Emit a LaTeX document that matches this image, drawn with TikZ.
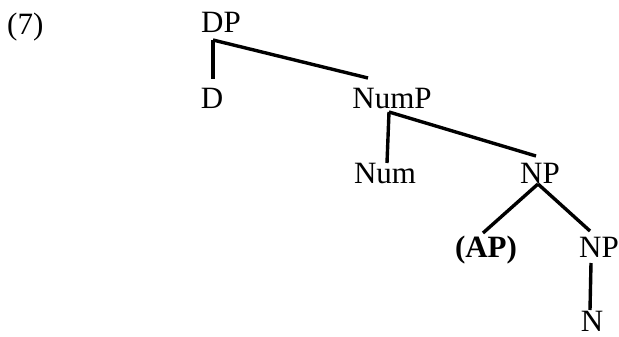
\documentclass[tikz,border=0pt]{standalone}
\usepackage{fontspec}
\setmainfont{Liberation Serif}
\begin{document}
\begin{tikzpicture}[x=1pt,y=-1pt,
  lbl/.style={inner sep=0pt,anchor=base,font=\fontsize{31}{36}\selectfont},
  branch/.style={line width=3.4pt}]
\useasboundingbox (0,0) rectangle (619,337);
% example number
\node[lbl,anchor=base west] (ex) at (7,35) {(7)};
% tree labels
\node[lbl] (DP)   at (221,33)  {DP};
\node[lbl] (D)    at (212,108) {D};
\node[lbl] (NumP) at (392,108) {NumP};
\node[lbl] (Num)  at (385,183) {Num};
\node[lbl] (NP)   at (540,183) {NP};
\node[lbl] (AP)   at (486,257) {\bfseries (AP)};
\node[lbl] (NPb)  at (599,257) {NP};
\node[lbl] (N)    at (592,331) {N};
% branches
\draw[branch] ([xshift=-8pt,yshift=-7pt]DP.base) -- ([xshift=1pt,yshift=29pt]D.base);
\draw[branch] ([xshift=-8pt,yshift=-7pt]DP.base) -- ([xshift=-24pt,yshift=30pt]NumP.base);
\draw[branch] ([xshift=-3pt,yshift=-4pt]NumP.base) -- ([xshift=2pt,yshift=20pt]Num.base);
\draw[branch] ([xshift=-3pt,yshift=-4pt]NumP.base) -- ([xshift=-4pt,yshift=27pt]NP.base);
\draw[branch] ([xshift=-2pt,yshift=-1pt]NP.base) -- ([xshift=-3pt,yshift=24pt]AP.base);
\draw[branch] ([xshift=-2pt,yshift=-1pt]NP.base) -- ([xshift=-9pt,yshift=26pt]NPb.base);
\draw[branch] ([xshift=-8pt,yshift=-6pt]NPb.base) -- ([xshift=-2pt,yshift=21pt]N.base);
\end{tikzpicture}
\end{document}
